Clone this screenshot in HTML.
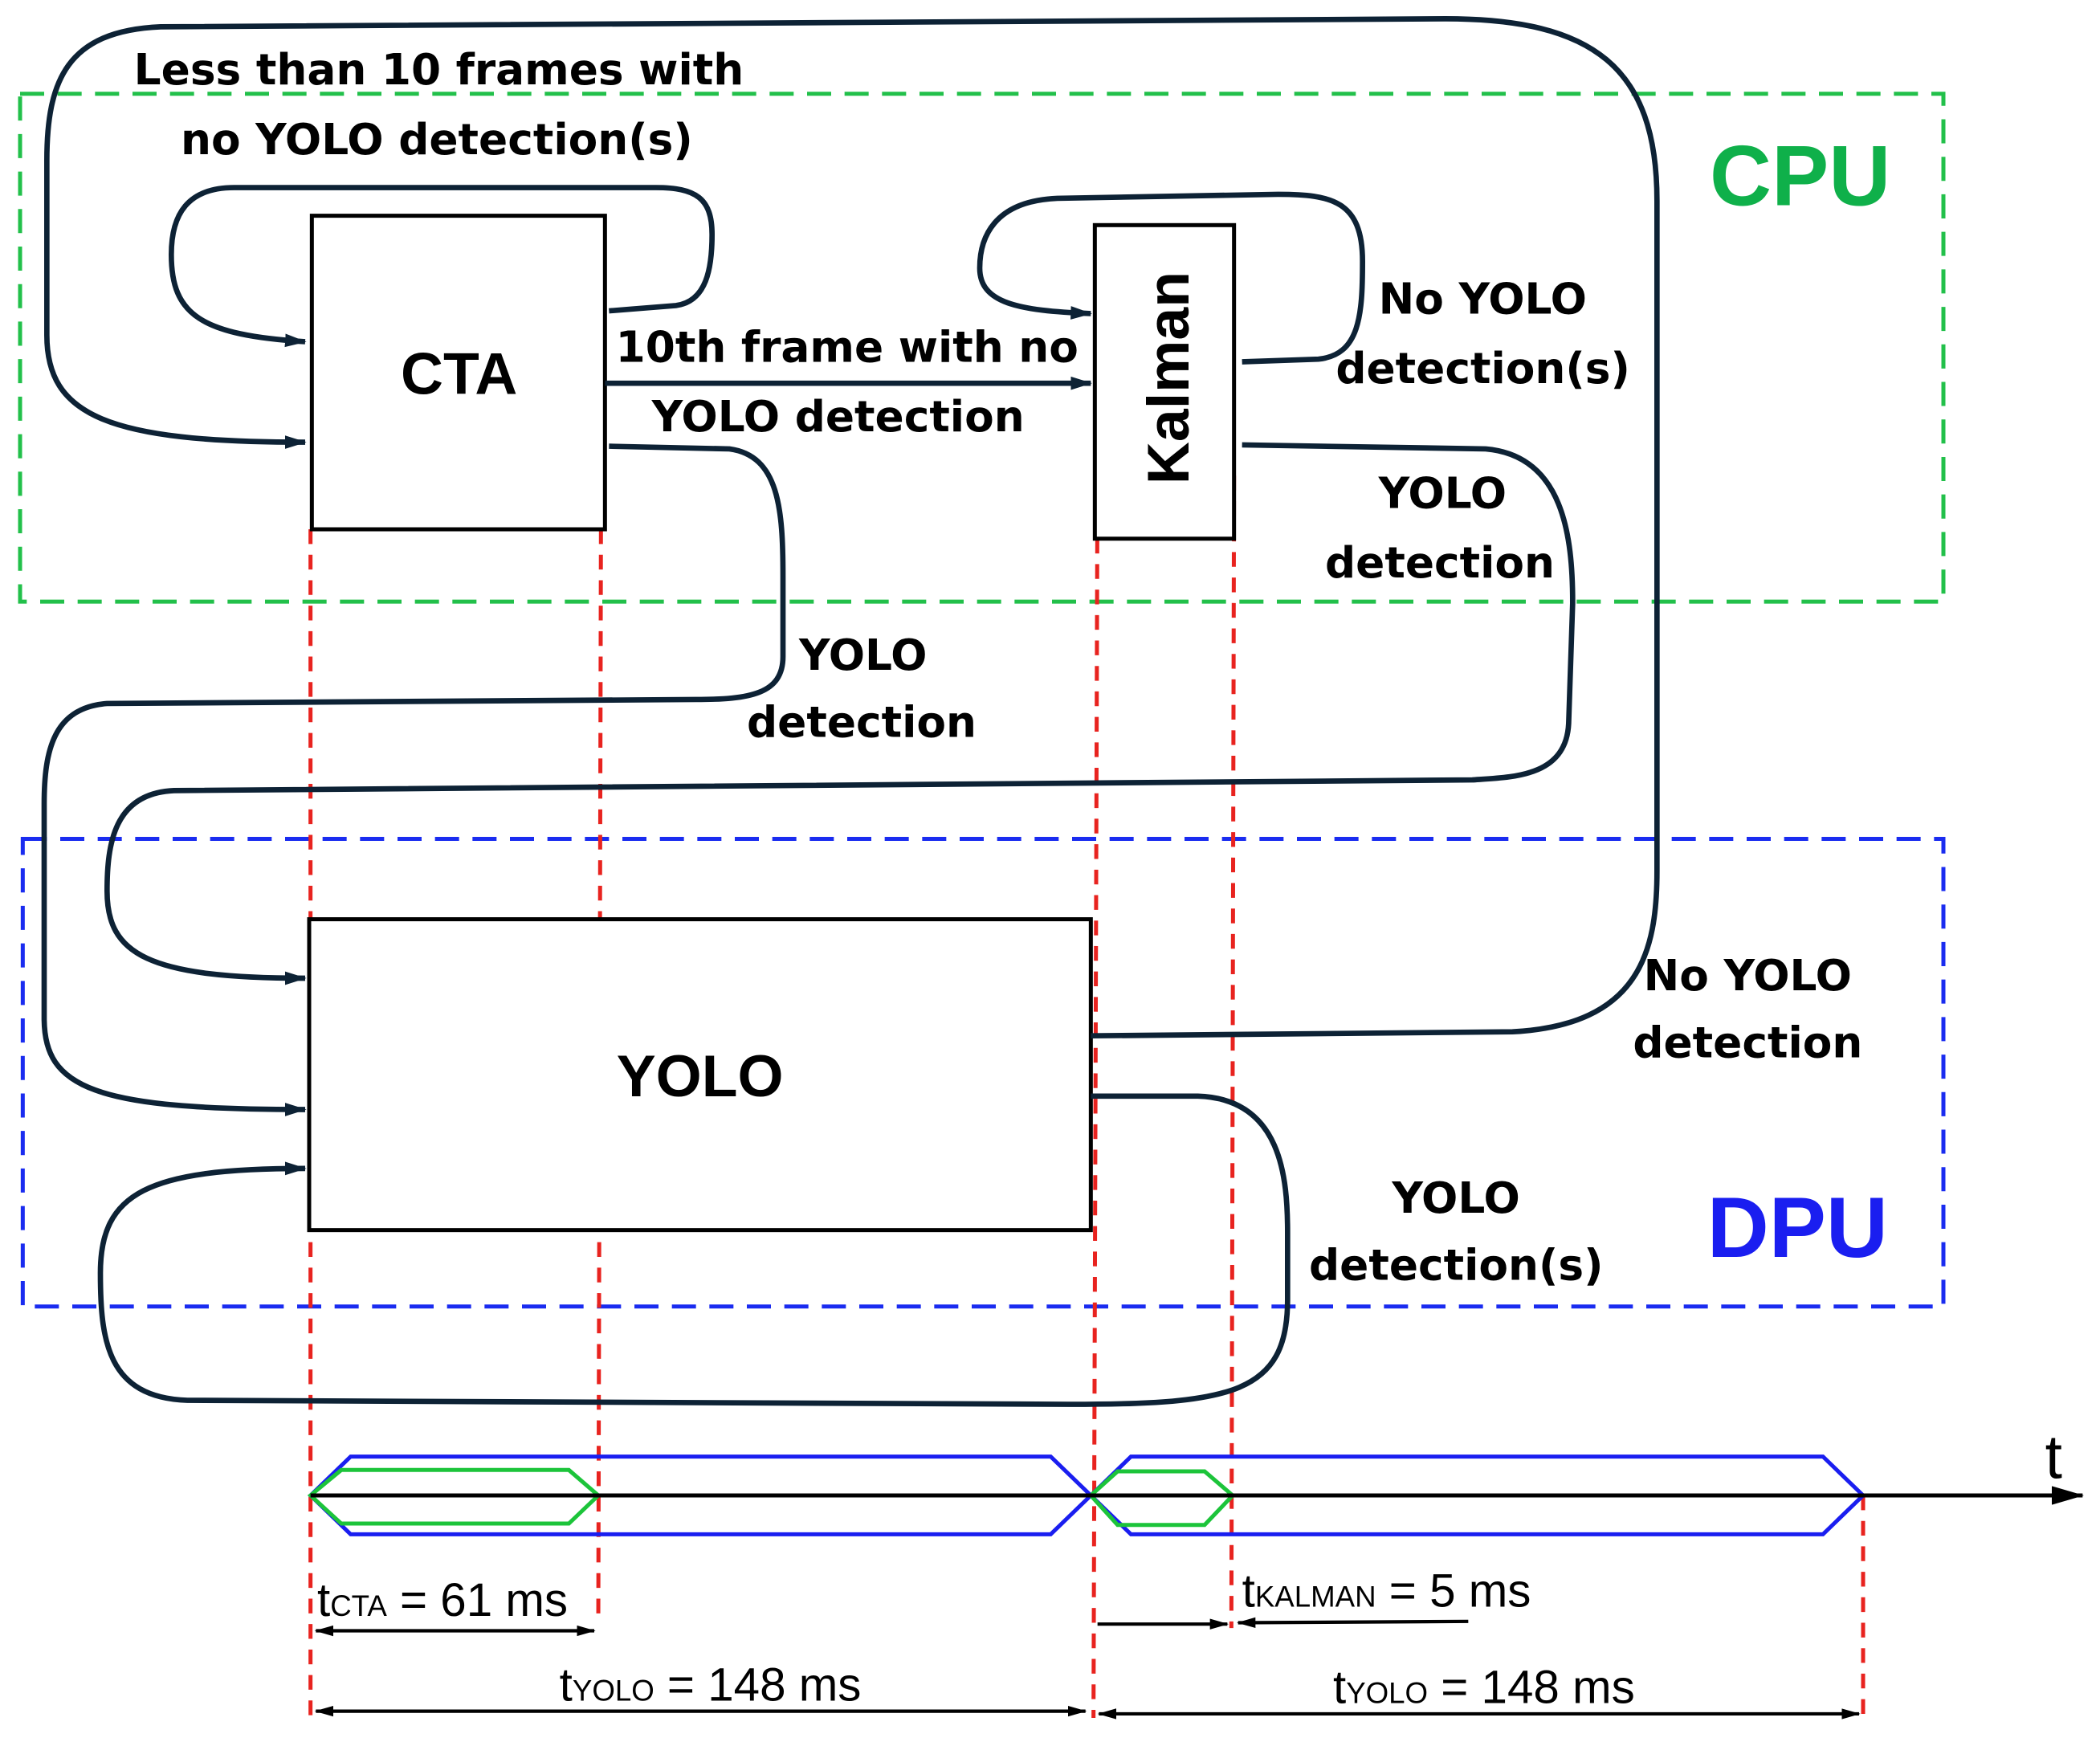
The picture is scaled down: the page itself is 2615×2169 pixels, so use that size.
<!DOCTYPE html>
<html><head><meta charset="utf-8"><style>
html,body{margin:0;padding:0;background:#fff;}
svg{display:block;}
text{font-family:"Liberation Sans",sans-serif;}
.b{font-family:"DejaVu Sans","Liberation Sans",sans-serif;font-weight:bold;font-size:32px;fill:#000;}
.c{fill:none;stroke:#0d2235;stroke-width:4;}
.r{stroke:#e8231f;stroke-width:3;stroke-dasharray:11 8;fill:none;}
.t{font-size:35px;fill:#000;}
</style></head><body>
<svg width="2615" height="2169" viewBox="0 0 1569 1300" preserveAspectRatio="none" xmlns="http://www.w3.org/2000/svg">
<defs>
<marker id="a" markerWidth="16" markerHeight="12" refX="15" refY="6" orient="auto" markerUnits="userSpaceOnUse" viewBox="0 0 16 12"><path d="M0,1 L16,6 L0,11 Z" fill="#0d2235"/></marker>
<marker id="k" markerWidth="14" markerHeight="10" refX="13" refY="5" orient="auto-start-reverse" markerUnits="userSpaceOnUse" viewBox="0 0 14 10"><path d="M0,1 L14,5 L0,9 Z" fill="#000"/></marker>
<marker id="ax" markerWidth="24" markerHeight="14" refX="23" refY="7" orient="auto" markerUnits="userSpaceOnUse" viewBox="0 0 24 14"><path d="M0,0 L24,7 L0,14 Z" fill="#000"/></marker>
</defs>
<rect width="1569" height="1300" fill="#fff"/>
<rect x="15" y="70" width="1437" height="379" fill="none" stroke="#22c04a" stroke-width="3" stroke-dasharray="18 10"/>
<rect x="17" y="626" width="1435" height="349" fill="none" stroke="#1a2cf0" stroke-width="3" stroke-dasharray="18 10"/>
<text x="1345" y="153" text-anchor="middle" font-weight="bold" font-size="64" fill="#0fb04a">CPU</text>
<text x="1343" y="938" text-anchor="middle" font-weight="bold" font-size="64" fill="#1a1ef0">DPU</text>
<line class="r" x1="232" y1="395" x2="232" y2="1282"/>
<line class="r" x1="449" y1="395" x2="447" y2="1212"/>
<line class="r" x1="820" y1="345" x2="817" y2="1282"/>
<line class="r" x1="922" y1="355" x2="920" y2="1215"/>
<line class="r" x1="1392" y1="1116" x2="1392" y2="1282"/>
<rect x="233" y="161" width="219" height="234" fill="#fff" stroke="#000" stroke-width="3"/>
<text x="343" y="294" text-anchor="middle" font-weight="bold" font-size="44">CTA</text>
<rect x="818" y="168" width="104" height="234" fill="#fff" stroke="#000" stroke-width="3"/>
<text transform="translate(888,282) rotate(-90)" text-anchor="middle" font-weight="bold" font-size="44">Kalman</text>
<rect x="231" y="686" width="584" height="232" fill="#fff" stroke="#000" stroke-width="3"/>
<text x="523" y="818" text-anchor="middle" font-weight="bold" font-size="44">YOLO</text>
<path class="c" marker-end="url(#a)" d="M455,232 L505,228 C528,225 532,200 532,175 C532,148 520,140 490,140 L175,140 C140,140 128,160 128,190 C128,235 150,250 228,255"/>
<path class="c" marker-end="url(#a)" d="M815,773 L1130,770 C1225,765 1238,710 1238,650 L1238,150 C1238,50 1190,14 1080,14 L120,20 C50,23 35,60 35,120 L35,250 C35,310 80,330 228,330"/>
<line class="c" x1="452" y1="286" x2="815" y2="286" marker-end="url(#a)" stroke-width="3"/>
<path class="c" marker-end="url(#a)" d="M455,333 L545,335 C582,340 585,380 585,430 L585,490 C585,518 560,522 520,522 L80,525 C40,528 33,560 33,600 L33,760 C33,812 70,828 228,828"/>
<path class="c" marker-end="url(#a)" d="M928,270 L985,268 C1016,265 1018,235 1018,195 C1018,150 995,145 955,145 L790,148 C742,150 732,178 732,200 C732,226 760,232 815,234"/>
<path class="c" marker-end="url(#a)" d="M928,332 L1110,335 C1168,340 1175,400 1175,450 L1172,540 C1170,580 1130,580 1100,582 L130,590 C85,592 80,630 80,665 C80,712 110,730 228,730"/>
<path class="c" marker-end="url(#a)" d="M815,818 L895,818 C958,820 962,880 962,920 L962,970 C962,1040 920,1048 800,1048 L140,1045 C80,1043 75,1000 75,950 C75,890 110,872 228,872"/>
<text class="b" x="100" y="63">Less than 10 frames with</text>
<text class="b" x="135" y="115">no YOLO detection(s)</text>
<text class="b" x="460" y="270">10th frame with no</text>
<text class="b" x="487" y="322">YOLO detection</text>
<text class="b" x="1030" y="234">No YOLO</text>
<text class="b" x="998" y="286">detection(s)</text>
<text class="b" x="1030" y="379">YOLO</text>
<text class="b" x="990" y="431">detection</text>
<text class="b" x="597" y="500">YOLO</text>
<text class="b" x="558" y="550">detection</text>
<text class="b" x="1228" y="739">No YOLO</text>
<text class="b" x="1220" y="789">detection</text>
<text class="b" x="1040" y="905">YOLO</text>
<text class="b" x="978" y="955">detection(s)</text>
<polygon points="232,1116 262,1087 785,1087 815,1116 785,1145 262,1145" fill="none" stroke="#1a1ef0" stroke-width="3"/>
<polygon points="815,1116 845,1087 1362,1087 1392,1116 1362,1145 845,1145" fill="none" stroke="#1a1ef0" stroke-width="3"/>
<polygon points="232,1116 255,1097 425,1097 447,1116 425,1137 255,1137" fill="none" stroke="#1cc43a" stroke-width="3"/>
<polygon points="815,1116 835,1098 900,1098 921,1116 900,1138 835,1138" fill="none" stroke="#1cc43a" stroke-width="3"/>
<line x1="232" y1="1116" x2="1556" y2="1116" stroke="#000" stroke-width="3" marker-end="url(#ax)"/>
<text x="1528" y="1103" font-size="46">t</text>
<text class="t" x="237" y="1206">t<tspan font-size="22">CTA</tspan> = 61 ms</text>
<line x1="236" y1="1217" x2="444" y2="1217" stroke="#000" stroke-width="2.5" marker-start="url(#k)" marker-end="url(#k)"/>
<text class="t" x="928" y="1199">t<tspan font-size="22">KALMAN</tspan> = 5 ms</text>
<line x1="820" y1="1212" x2="917" y2="1212" stroke="#000" stroke-width="2.5" marker-end="url(#k)"/>
<line x1="1097" y1="1210" x2="925" y2="1211" stroke="#000" stroke-width="2.5" marker-end="url(#k)"/>
<text class="t" x="418" y="1269">t<tspan font-size="22">YOLO</tspan> = 148 ms</text>
<line x1="236" y1="1277" x2="811" y2="1277" stroke="#000" stroke-width="2.5" marker-start="url(#k)" marker-end="url(#k)"/>
<text class="t" x="996" y="1271">t<tspan font-size="22">YOLO</tspan> = 148 ms</text>
<line x1="821" y1="1279" x2="1389" y2="1279" stroke="#000" stroke-width="2.5" marker-start="url(#k)" marker-end="url(#k)"/>
</svg>
</body></html>
